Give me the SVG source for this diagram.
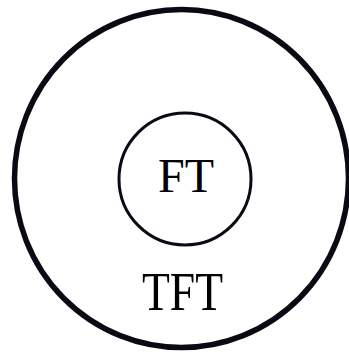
<svg xmlns="http://www.w3.org/2000/svg" width="349" height="352" viewBox="0 0 349 352">
<style>
.ring{fill:none;stroke:#0a0a14}
.lbl{font-family:"Liberation Serif","Times New Roman",serif;fill:#000;text-anchor:middle}
</style>
<rect width="349" height="352" fill="#fff"/>
<g id="TFT">
<ellipse class="ring" cx="181.5" cy="178.5" rx="167" ry="169" stroke-width="5.5"/>
<text class="lbl" x="182.5" y="310" font-size="55" textLength="81" lengthAdjust="spacingAndGlyphs">TFT</text>
</g>
<g id="FT">
<circle class="ring" cx="185" cy="179" r="66" stroke-width="3"/>
<text class="lbl" x="186" y="191.5" font-size="48">FT</text>
</g>
<g id="connectors"/>
</svg>
